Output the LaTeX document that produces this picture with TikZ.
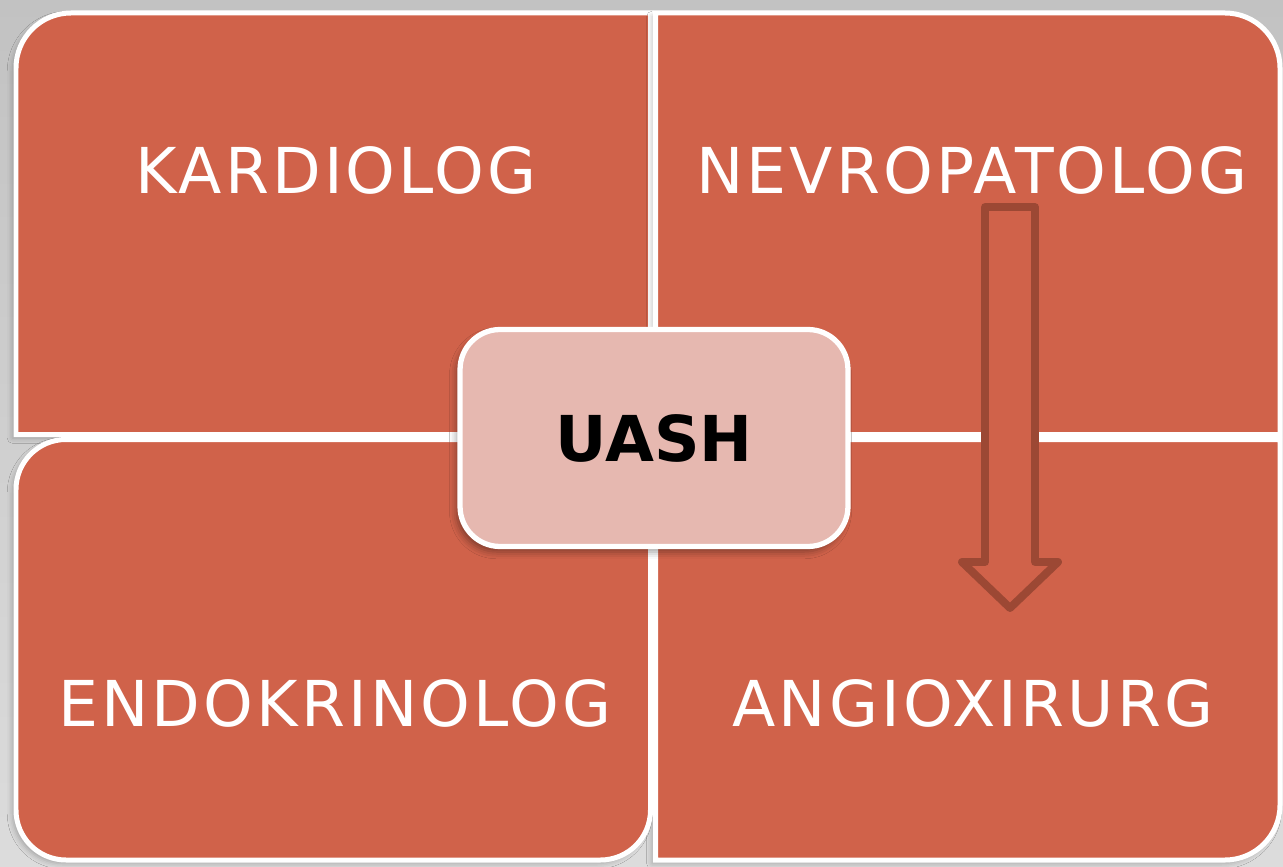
\documentclass[tikz,border=0pt]{standalone}
\usepackage{fontspec}
\setmainfont{DejaVu Sans}
\newfontfamily\quadfont[LetterSpace=5]{DejaVu Sans}
\usepackage{xcolor}
\definecolor{cBack}  {HTML}{C2C2C2}
\definecolor{cBackLo}{HTML}{DCDCDC}
\definecolor{cQuad}  {HTML}{D0624A}
\definecolor{cPink}  {HTML}{E6B8B0}
\definecolor{cArrow} {HTML}{9C4834}
\usetikzlibrary{shadows.blur, positioning}
\tikzset{
  quad/.style  = {fill=cQuad, draw=white, line width=0.1cm,
                  blur shadow={shadow xshift=-2pt, shadow yshift=-2pt,
                               shadow blur radius=3pt, shadow opacity=25}},
  qtxt/.style  = {text=white, font=\quadfont\fontsize{36}{40}\selectfont},
  hub/.style   = {rectangle, rounded corners=0.8cm, fill=cPink,
                  draw=white, line width=3pt,
                  minimum width=7.76cm, minimum height=4.34cm,
                  font=\fontsize{36}{40}\selectfont\bfseries,
                  blur shadow={shadow xshift=-2pt, shadow yshift=-3pt,
                               shadow blur radius=4pt, shadow opacity=40}},
  hollow/.style = {draw=cArrow, fill=cQuad, line width=4.5pt, line join=round},
}

\begin{document}
\begin{tikzpicture}[x=0.02cm, y=0.02cm]

  %% Background
  \useasboundingbox (0,0) rectangle (1283,866);
  \shade[top color=cBack, bottom color=cBackLo] (0,0) rectangle (1283,866);

  %% Four quadrants
  \path[quad] (16,431.5) -- (16,798) arc[start angle=180, end angle=90, radius=55]
              -- (650.5,853) -- (650.5,431.5) -- cycle;
  \path[quad] (655.5,431.5) -- (655.5,853) -- (1225,853)
              arc[start angle=90, end angle=0, radius=55] -- (1280,431.5) -- cycle;
  \path[quad] (655.5,426.5) -- (1280,426.5) -- (1280,61)
              arc[start angle=0, end angle=-90, radius=55] -- (655.5,6) -- cycle;
  \path[quad] (650.5,426.5) -- (66,426.5) arc[start angle=90, end angle=180, radius=50]
              -- (16,56) arc[start angle=180, end angle=270, radius=50]
              -- (600.5,6) arc[start angle=270, end angle=360, radius=50] -- cycle;

  %% Labels
  \node[qtxt] (kard)  at (336,696) {KARDIOLOG};
  \node[qtxt] (nevro) at (972,696) {NEVROPATOLOG};
  \node[qtxt] (endo)  at (335,163) {ENDOKRINOLOG};
  \node[qtxt] (angio) at (973,163) {ANGIOXIRURG};

  %% Hollow arrow
  \draw[hollow] (985,659) -- (1035,659) -- (1035,304) -- (1058,304)
                -- (1010,258) -- (962,304) -- (985,304) -- cycle;

  %% Centre box
  \node[hub] (uash) at (654,428) {UASH};

\end{tikzpicture}
\end{document}
